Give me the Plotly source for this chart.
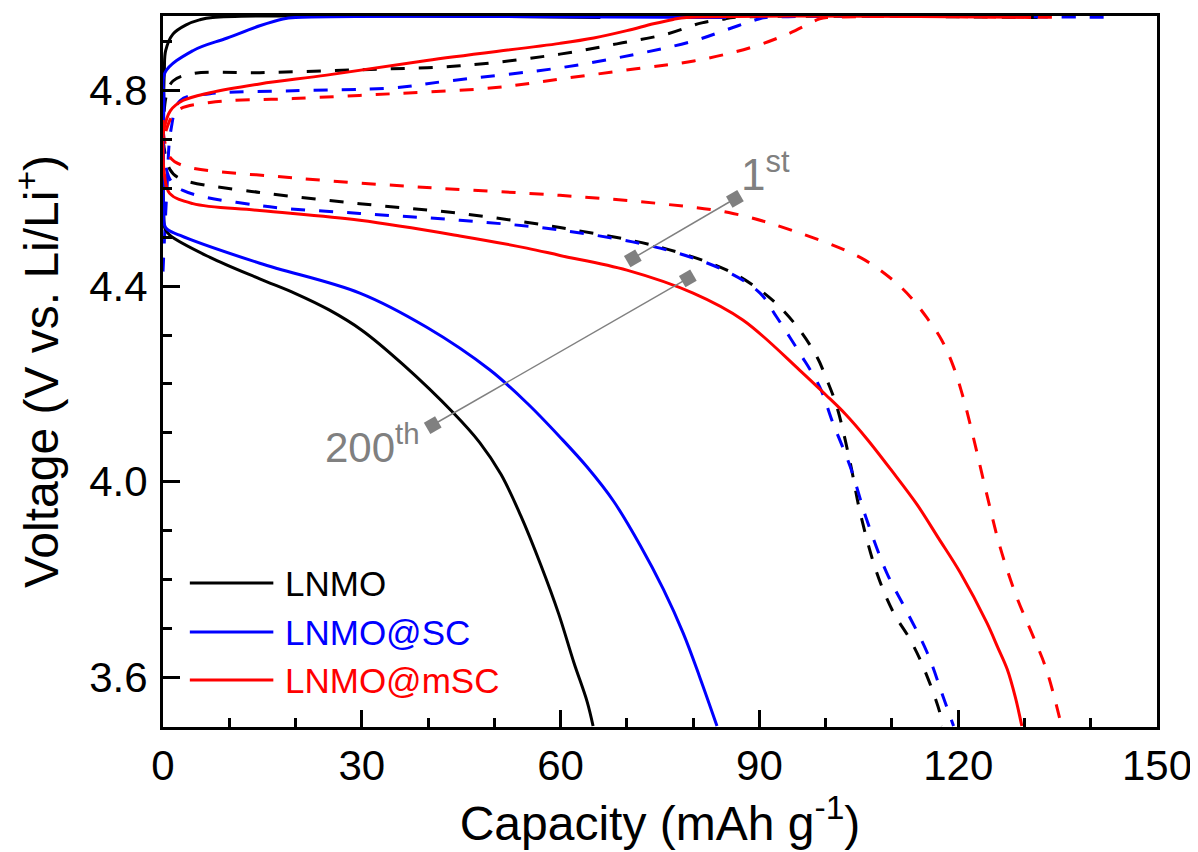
import plotly.graph_objects as go

# ---------------- data ----------------
samples = ["LNMO", "LNMO@SC", "LNMO@mSC"]
colors = ["#000000", "#0000FF", "#FF0000"]

# 1st cycle (dashed) - charge
lnmo_c1_x = [0, 0.5, 1.5, 4.5, 14.6, 29.7, 44.8, 59.9, 68.5, 76, 81.3, 84.8, 86, 132]
lnmo_c1_v = [4.70, 4.79, 4.82, 4.835, 4.837, 4.843, 4.851, 4.875, 4.896, 4.916, 4.939, 4.947, 4.95, 4.95]
sc_c1_x = [0, 0.6, 1.2, 2.6, 7.1, 19.6, 34.7, 43, 59.9, 71.4, 80.1, 85.9, 89.9, 91, 144]
sc_c1_v = [4.43, 4.60, 4.72, 4.78, 4.794, 4.80, 4.806, 4.82, 4.847, 4.875, 4.902, 4.929, 4.947, 4.95, 4.95]
msc_c1_x = [0, 0.5, 2.1, 7.1, 19.6, 34.7, 49.8, 59.9, 71.4, 80.1, 88.6, 94.6, 99.1, 100.5, 136]
msc_c1_v = [4.66, 4.72, 4.759, 4.776, 4.784, 4.794, 4.806, 4.824, 4.845, 4.861, 4.888, 4.918, 4.947, 4.95, 4.95]

# 1st cycle (dashed) - discharge
lnmo_d1_x = [0, 1, 2.6, 14.6, 29.7, 44.8, 59.9, 75, 85.1, 90.1, 93.1, 96.1, 98.7, 100.2, 101.7,
             103.7, 105.2, 107.7, 110.2, 112.7, 114.7, 117.2, 117.6]
lnmo_d1_v = [4.70, 4.64, 4.62, 4.592, 4.569, 4.549, 4.52, 4.48, 4.433, 4.392, 4.357, 4.31, 4.255,
             4.208, 4.153, 4.039, 3.937, 3.814, 3.733, 3.678, 3.622, 3.529, 3.50]
sc_d1_x = [0, 1, 3, 14.6, 29.7, 44.8, 59.9, 75, 85.1, 90.1, 92.6, 96.1, 99.1, 101.1, 103.7,
           106.2, 109.2, 112.3, 115.3, 117.7, 119.3]
sc_d1_v = [4.70, 4.62, 4.596, 4.565, 4.549, 4.535, 4.515, 4.478, 4.43, 4.386, 4.337, 4.263,
           4.194, 4.12, 4.031, 3.922, 3.814, 3.733, 3.651, 3.561, 3.50]
msc_d1_x = [0, 1, 3, 19.6, 39.8, 59.9, 75, 86, 95, 105.2, 110.2, 113, 115.3, 117.5, 119.3, 120.8,
            122.3, 124.3, 126.3, 128.8, 131.3, 133.3, 135.6]
msc_d1_v = [4.72, 4.665, 4.647, 4.622, 4.602, 4.586, 4.569, 4.549, 4.514, 4.459, 4.412, 4.375,
            4.335, 4.29, 4.235, 4.17, 4.09, 3.975, 3.867, 3.765, 3.684, 3.616, 3.50]

# 200th cycle (solid) - charge
lnmo_c200_x = [0, 0.2, 0.4, 1.5, 3.5, 5.5, 7.5, 66]
lnmo_c200_v = [4.70, 4.84, 4.882, 4.916, 4.935, 4.945, 4.95, 4.95]
sc_c200_x = [0, 0.15, 0.3, 4.5, 9.7, 14.6, 18.1, 20, 85]
sc_c200_v = [4.62, 4.78, 4.837, 4.882, 4.908, 4.933, 4.947, 4.95, 4.95]
msc_c200_x = [0, 0.1, 1.1, 3, 7.1, 14.6, 24.7, 39.8, 59.9, 65, 70, 74, 77, 79, 131]
msc_c200_v = [4.70, 4.718, 4.759, 4.78, 4.796, 4.814, 4.832, 4.862, 4.897, 4.908, 4.923, 4.937,
              4.946, 4.95, 4.95]

# 200th cycle (solid) - discharge
lnmo_d200_x = [0, 0.1, 0.3, 1.06, 7.1, 14.6, 20, 25, 30, 36.2, 43.8, 47.8, 51, 54, 57, 59.7,
               62, 64, 64.9]
lnmo_d200_v = [4.72, 4.55, 4.518, 4.504, 4.459, 4.415, 4.385, 4.352, 4.31, 4.24, 4.141, 4.08,
               4.015, 3.93, 3.83, 3.73, 3.63, 3.55, 3.50]
sc_d200_x = [0, 0.1, 0.4, 2.6, 14.6, 29.7, 39.8, 49.3, 55, 60, 64, 68, 72, 75.5, 78.5, 81, 83.6]
sc_d200_v = [4.72, 4.56, 4.52, 4.504, 4.447, 4.386, 4.316, 4.229, 4.16, 4.09, 4.03, 3.96, 3.87,
             3.78, 3.69, 3.60, 3.50]
msc_d200_x = [0, 0.2, 1, 4.5, 14.6, 29.7, 44.8, 54.9, 59.9, 70, 80, 87.5, 96.1, 100, 103,
              106.2, 110, 113.8, 117, 120.3, 124.3, 126, 127.4, 128.6, 129.6]
msc_d200_v = [4.74, 4.63, 4.59, 4.569, 4.555, 4.535, 4.503, 4.478, 4.463, 4.433, 4.386, 4.331,
              4.228, 4.178, 4.138, 4.088, 4.022, 3.953, 3.885, 3.814, 3.712, 3.66, 3.616, 3.56,
              3.50]

# guide lines for cycle labels
first_x = [70.9, 86.3]
first_v = [4.457, 4.579]
last_x = [40.7, 79.2]
last_v = [4.116, 4.416]
cycle_labels = ["1<sup>st</sup>", "200<sup>th</sup>"]

x_range = [0, 150]
y_range = [3.498, 4.953]

# ---------------- figure ----------------
FONT = "Liberation Sans, Arial, Helvetica, sans-serif"
fig = go.Figure()

dashed_sets = [(lnmo_c1_x, lnmo_c1_v, lnmo_d1_x, lnmo_d1_v),
               (sc_c1_x, sc_c1_v, sc_d1_x, sc_d1_v),
               (msc_c1_x, msc_c1_v, msc_d1_x, msc_d1_v)]
solid_sets = [(lnmo_c200_x, lnmo_c200_v, lnmo_d200_x, lnmo_d200_v),
              (sc_c200_x, sc_c200_v, sc_d200_x, sc_d200_v),
              (msc_c200_x, msc_c200_v, msc_d200_x, msc_d200_v)]

for (cx, cv, dx, dv), col, name in zip(dashed_sets, colors, samples):
    for xs, vs in ((cx, cv), (dx, dv)):
        fig.add_trace(go.Scatter(x=xs, y=vs, mode="lines", name=name + " 1st",
                                 line=dict(color=col, width=3, dash="14px,14px", shape="spline",
                                           smoothing=1.0),
                                 showlegend=False, hoverinfo="skip"))

for (cx, cv, dx, dv), col, name in zip(solid_sets, colors, samples):
    for xs, vs in ((cx, cv), (dx, dv)):
        fig.add_trace(go.Scatter(x=xs, y=vs, mode="lines", name=name + " 200th",
                                 line=dict(color=col, width=3, shape="spline", smoothing=1.0),
                                 showlegend=False, hoverinfo="skip"))

GRAY = "#808080"
for xs, vs in ((first_x, first_v), (last_x, last_v)):
    fig.add_trace(go.Scatter(x=xs, y=vs, mode="lines+markers",
                             line=dict(color=GRAY, width=1.5),
                             marker=dict(symbol="square", size=13, color=GRAY, angle=-30),
                             showlegend=False, hoverinfo="skip"))

# cycle labels
fig.add_annotation(x=first_x[1] + 0.6, y=4.635, text=cycle_labels[0], showarrow=False,
                   xanchor="left", yanchor="middle", font=dict(family=FONT, size=44, color=GRAY))
fig.add_annotation(x=last_x[0] - 1.65, y=4.077, text=cycle_labels[1], showarrow=False,
                   xanchor="right", yanchor="middle", font=dict(family=FONT, size=42, color=GRAY))

# manual legend
leg_y = [0.2025, 0.1336, 0.0661]
for name, col, yy in zip(samples, colors, leg_y):
    fig.add_shape(type="line", xref="paper", yref="paper", x0=0.027, x1=0.111, y0=yy, y1=yy,
                  line=dict(color=col, width=3))
    fig.add_annotation(xref="paper", yref="paper", x=0.1207, y=yy, text=name, showarrow=False,
                       xanchor="left", yanchor="middle",
                       font=dict(family=FONT, size=35, color=col))

axis_common = dict(showline=True, linecolor="black", linewidth=3, mirror=True,
                   ticks="inside", tickcolor="black", tickwidth=2.5, ticklen=17,
                   showgrid=False, zeroline=False, automargin=False,
                   tickfont=dict(family=FONT, size=42, color="black"))

fig.update_xaxes(range=x_range, tick0=0, dtick=30,
                 minor=dict(dtick=10, ticks="inside", ticklen=9, tickwidth=2.5, tickcolor="black"),
                 title=dict(text="Capacity (mAh g<sup>-1</sup>)", standoff=8,
                            font=dict(family=FONT, size=48, color="black")),
                 **axis_common)
fig.update_yaxes(range=y_range, tick0=3.6, dtick=0.4, tickformat=".1f", ticklabelstandoff=4,
                 minor=dict(dtick=0.1, tick0=3.5, ticks="inside", ticklen=9, tickwidth=2.5,
                            tickcolor="black"),
                 title=dict(text="Voltage (V vs. Li/Li<sup>+</sup>)", standoff=26,
                            font=dict(family=FONT, size=48, color="black")),
                 **axis_common)

# the page body has an 8px default margin, so the figure is sized to sit inside the window
fig.update_layout(width=1190, height=844,
                  margin=dict(l=155, r=41, t=8, b=125),
                  paper_bgcolor="white", plot_bgcolor="white",
                  showlegend=False)

fig.write_html("out.html")
